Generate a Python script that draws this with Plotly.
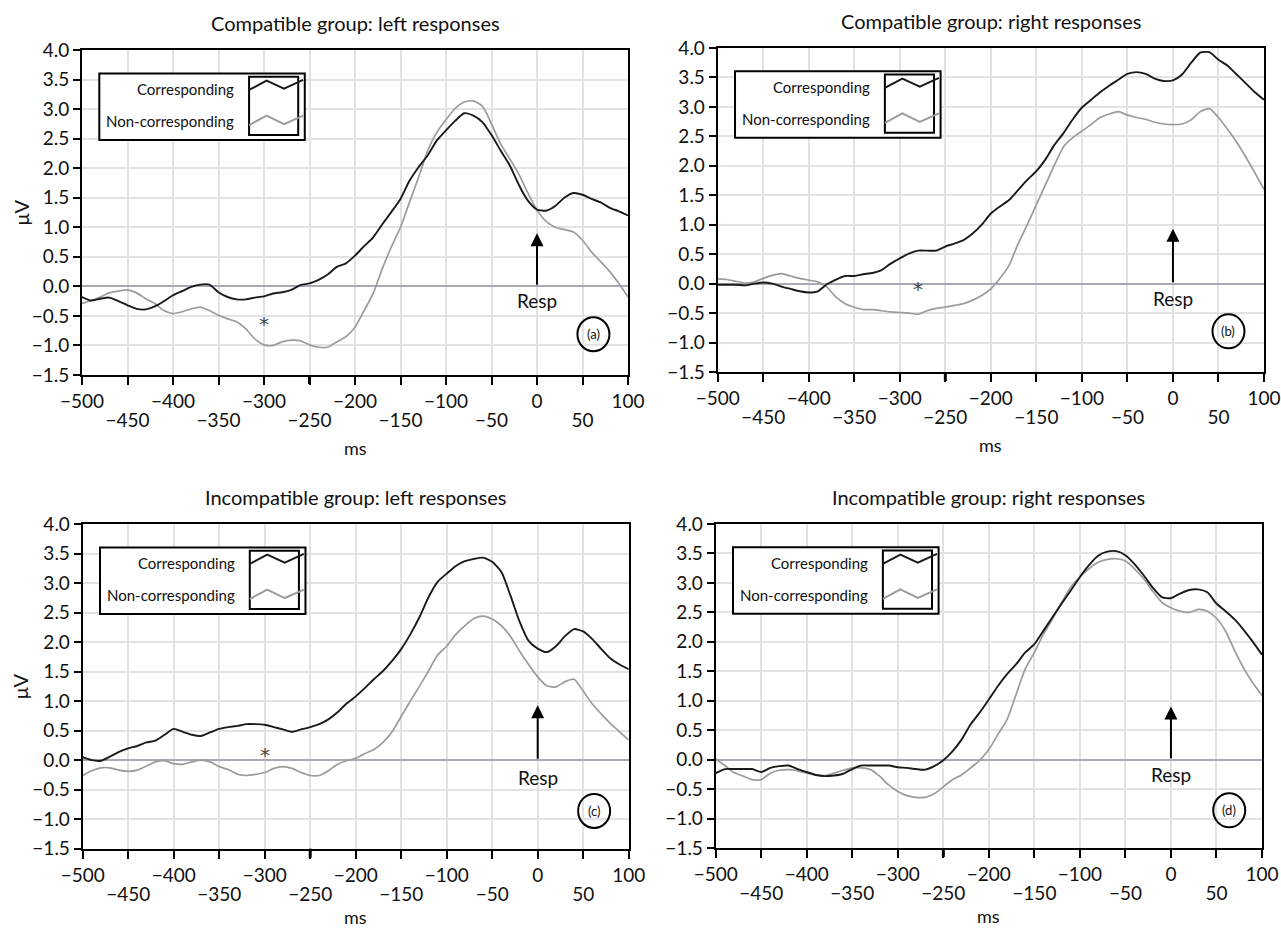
import plotly.graph_objects as go

# ---------------- data ----------------
t = list(range(-500, 101, 10))

a_corr = [-0.18, -0.24, -0.21, -0.19, -0.25, -0.32, -0.38, -0.39, -0.34, -0.25,
          -0.15, -0.08, -0.01, 0.03, 0.03, -0.10, -0.18, -0.22, -0.22, -0.19,
          -0.17, -0.12, -0.10, -0.06, 0.02, 0.05, 0.11, 0.20, 0.33, 0.39,
          0.52, 0.68, 0.83, 1.05, 1.26, 1.48, 1.79, 2.02, 2.22, 2.47,
          2.64, 2.80, 2.93, 2.89, 2.78, 2.56, 2.30, 2.05, 1.72, 1.45,
          1.30, 1.28, 1.36, 1.50, 1.58, 1.55, 1.48, 1.42, 1.33, 1.27, 1.20]
a_non = [-0.29, -0.24, -0.18, -0.11, -0.08, -0.06, -0.11, -0.21, -0.29, -0.41,
         -0.46, -0.43, -0.38, -0.35, -0.41, -0.49, -0.55, -0.60, -0.72, -0.89,
         -0.99, -1.00, -0.94, -0.91, -0.92, -0.99, -1.03, -1.03, -0.94, -0.85,
         -0.69, -0.41, -0.12, 0.30, 0.67, 1.00, 1.43, 1.85, 2.30, 2.61,
         2.82, 3.01, 3.12, 3.14, 3.05, 2.75, 2.41, 2.16, 1.90, 1.58,
         1.29, 1.10, 1.00, 0.96, 0.92, 0.78, 0.58, 0.42, 0.25, 0.05, -0.18]

b_corr = [-0.02, -0.02, -0.02, -0.03, 0.00, 0.02, 0.00, -0.05, -0.09, -0.13,
          -0.15, -0.13, -0.01, 0.07, 0.13, 0.13, 0.16, 0.18, 0.23, 0.34,
          0.43, 0.51, 0.56, 0.56, 0.56, 0.63, 0.68, 0.74, 0.85, 1.00,
          1.19, 1.31, 1.42, 1.59, 1.76, 1.91, 2.11, 2.36, 2.56, 2.79,
          2.99, 3.12, 3.25, 3.36, 3.46, 3.56, 3.59, 3.56, 3.48, 3.44,
          3.45, 3.55, 3.75, 3.92, 3.93, 3.80, 3.70, 3.55, 3.40, 3.25, 3.12]
b_non = [0.08, 0.07, 0.04, 0.01, 0.03, 0.09, 0.14, 0.17, 0.13, 0.09,
         0.06, 0.03, -0.06, -0.23, -0.34, -0.40, -0.44, -0.44, -0.46, -0.48,
         -0.49, -0.50, -0.52, -0.46, -0.42, -0.40, -0.37, -0.34, -0.28, -0.20,
         -0.09, 0.09, 0.31, 0.68, 1.00, 1.34, 1.68, 2.02, 2.33, 2.48,
         2.59, 2.70, 2.82, 2.88, 2.92, 2.86, 2.82, 2.79, 2.74, 2.71,
         2.70, 2.71, 2.78, 2.92, 2.97, 2.82, 2.62, 2.40, 2.15, 1.88, 1.60]

c_corr = [0.05, 0.00, -0.01, 0.06, 0.14, 0.20, 0.24, 0.30, 0.33, 0.43,
          0.53, 0.48, 0.43, 0.41, 0.47, 0.53, 0.56, 0.58, 0.61, 0.61,
          0.60, 0.56, 0.52, 0.48, 0.52, 0.56, 0.61, 0.69, 0.81, 0.96,
          1.08, 1.22, 1.37, 1.51, 1.68, 1.88, 2.13, 2.42, 2.76, 3.02,
          3.16, 3.29, 3.37, 3.41, 3.43, 3.36, 3.19, 2.79, 2.35, 2.02,
          1.89, 1.83, 1.93, 2.10, 2.22, 2.18, 2.05, 1.88, 1.72, 1.62, 1.54]
c_non = [-0.26, -0.18, -0.13, -0.13, -0.17, -0.19, -0.17, -0.10, -0.03, -0.01,
         -0.06, -0.07, -0.03, 0.00, -0.03, -0.11, -0.16, -0.24, -0.26, -0.24,
         -0.21, -0.14, -0.11, -0.14, -0.21, -0.26, -0.26, -0.18, -0.07, -0.01,
         0.03, 0.11, 0.18, 0.30, 0.48, 0.74, 1.00, 1.25, 1.51, 1.78,
         1.93, 2.13, 2.28, 2.40, 2.44, 2.39, 2.28, 2.10, 1.85, 1.62,
         1.41, 1.26, 1.24, 1.33, 1.37, 1.17, 0.95, 0.78, 0.62, 0.48, 0.34]

d_corr = [-0.23, -0.16, -0.16, -0.16, -0.16, -0.21, -0.14, -0.11, -0.10, -0.16,
          -0.21, -0.26, -0.28, -0.27, -0.24, -0.16, -0.10, -0.10, -0.10, -0.10,
          -0.13, -0.14, -0.16, -0.17, -0.11, -0.01, 0.14, 0.34, 0.60, 0.80,
          1.02, 1.25, 1.45, 1.62, 1.82, 1.96, 2.19, 2.42, 2.65, 2.87,
          3.10, 3.30, 3.46, 3.53, 3.54, 3.47, 3.32, 3.13, 2.92, 2.76,
          2.74, 2.82, 2.88, 2.89, 2.84, 2.65, 2.52, 2.38, 2.20, 2.00, 1.78]
d_non = [0.01, -0.10, -0.22, -0.28, -0.34, -0.34, -0.23, -0.18, -0.17, -0.19,
         -0.23, -0.26, -0.27, -0.23, -0.18, -0.14, -0.14, -0.17, -0.28, -0.43,
         -0.54, -0.61, -0.64, -0.64, -0.58, -0.46, -0.34, -0.26, -0.14, -0.01,
         0.17, 0.43, 0.68, 1.11, 1.54, 1.82, 2.13, 2.39, 2.67, 2.93,
         3.10, 3.24, 3.35, 3.40, 3.41, 3.37, 3.24, 3.07, 2.86, 2.67,
         2.58, 2.52, 2.50, 2.55, 2.52, 2.40, 2.18, 1.85, 1.55, 1.30, 1.09]

titles = ["Compatible group: left responses", "Compatible group: right responses",
          "Incompatible group: left responses", "Incompatible group: right responses"]
tags = ["(a)", "(b)", "(c)", "(d)"]
series_names = ["Corresponding", "Non-corresponding"]
x_ticks = list(range(-500, 101, 50))
x_ticks_upper = list(range(-500, 101, 100))    # labels on the first row
x_ticks_lower = list(range(-450, 51, 100))     # labels on the second row
y_ticks = [4.0, 3.5, 3.0, 2.5, 2.0, 1.5, 1.0, 0.5, 0.0, -0.5, -1.0, -1.5]

# annotation positions (data coords)
star_pos = [(-300, -0.55), (-280, 0.0), (-300, 0.17), None]
tag_pos = [(62, -0.81), (61, -0.81), (62, -0.86), (64, -0.86)]
resp_text_y = [-0.24, -0.25, -0.3, -0.25]
arrow_tip_y = [0.9, 0.93, 0.93, 0.9]

# ---------------- layout geometry ----------------
W, H = 1281, 929
px_domains = [  # (x0, x1, ytop, ybottom) in pixels
    (82, 628, 50, 375),
    (717.7, 1264, 48, 372),
    (82.7, 628.7, 524, 848.7),
    (715.7, 1262, 524, 848),
]
ms_shift = [-86, -86, -81, -81]

FONT = "Lato"
BLACK = "#1a1a1a"
GREY = "#9b9b9b"
TXT = "#111111"


def mfmt(v, dec=None):
    s = f"{abs(v):.{dec}f}" if dec is not None else str(abs(v))
    return ("\u2212" + s) if v < 0 else s


x_text = [mfmt(v) if v % 100 == 0 else "" for v in x_ticks]
x_text_lower = [mfmt(v) for v in x_ticks_lower]
y_text = [mfmt(v, 1) if v != 0 else "0.0" for v in y_ticks]

data_sets = [(a_corr, a_non), (b_corr, b_non), (c_corr, c_non), (d_corr, d_non)]

fig = go.Figure()
shapes = []
annotations = []

for i, (corr, non) in enumerate(data_sets):
    n = "" if i == 0 else str(i + 1)
    xa, ya = "x" + n, "y" + n
    fig.add_trace(go.Scatter(x=t, y=non, mode="lines", name=series_names[1],
                             line=dict(color=GREY, width=1.7, shape="spline", smoothing=0.6),
                             xaxis=xa, yaxis=ya, showlegend=False))
    fig.add_trace(go.Scatter(x=t, y=corr, mode="lines", name=series_names[0],
                             line=dict(color=BLACK, width=1.9, shape="spline", smoothing=0.6),
                             xaxis=xa, yaxis=ya, showlegend=False))

    x0, x1, yt, yb = px_domains[i]
    tickfont = dict(family=FONT, size=19, color=TXT)
    axis_common = dict(showline=True, mirror=True, linecolor="black", linewidth=2,
                       ticks="outside", tickcolor="black", tickwidth=1.5,
                       showgrid=True, gridcolor="#e2e2e2", gridwidth=1.5,
                       automargin=False, tickangle=0, tickfont=tickfont)
    # second-row x labels live on an overlaying axis
    nn = str(i + 5)
    fig.update_layout(**{
        ("xaxis" + n): dict(domain=[x0 / W, x1 / W], range=[-500, 100], anchor=ya,
                            tickmode="array", tickvals=x_ticks, ticktext=x_text,
                            ticklen=8, zeroline=False, **axis_common),
        ("yaxis" + n): dict(domain=[1 - yb / H, 1 - yt / H], range=[-1.5, 4.0], anchor=xa,
                            tickmode="array", tickvals=y_ticks, ticktext=y_text,
                            ticklen=7, zeroline=True, zerolinecolor="#a9a9b3",
                            zerolinewidth=1.5, **axis_common),
        ("xaxis" + nn): dict(domain=[x0 / W, x1 / W], range=[-500, 100], anchor=ya,
                             overlaying=xa, side="bottom",
                             tickmode="array", tickvals=x_ticks_lower, ticktext=x_text_lower,
                             ticks="", showline=False, showgrid=False, zeroline=False,
                             automargin=False, tickangle=0, tickfont=tickfont,
                             ticklabelstandoff=32),
    })
    # invisible trace so the overlay axis is drawn
    fig.add_trace(go.Scatter(x=[t[0], t[-1]], y=[corr[0], corr[-1]], mode="lines",
                             line=dict(width=0), opacity=0, hoverinfo="skip",
                             xaxis="x" + nn, yaxis=ya, showlegend=False))

    xd, yd = xa + " domain", ya + " domain"
    # panel title
    annotations.append(dict(text=titles[i], xref=xd, yref=yd, x=0.5, y=1, yshift=27,
                            showarrow=False, yanchor="middle",
                            font=dict(family=FONT, size=20, color=TXT)))
    # x-axis title
    annotations.append(dict(text="ms", xref=xd, yref=yd, x=0.5, y=0, yshift=ms_shift[i],
                            showarrow=False, yanchor="bottom",
                            font=dict(family=FONT, size=18, color=TXT)))
    if i in (0, 2):
        annotations.append(dict(text="\u03bcV", xref="paper", yref=yd, x=20 / W, y=0.5,
                                textangle=-90, showarrow=False, xanchor="center",
                                font=dict(family=FONT, size=20, color=TXT)))
    # thicker tick at -250
    shapes.append(dict(type="line", xref=xa, yref=yd, x0=-250, x1=-250,
                       ysizemode="pixel", yanchor=0, y0=0, y1=-9,
                       line=dict(color="black", width=3)))
    # legend box
    shapes.append(dict(type="rect", xref=xd, yref=yd, x0=0.0317, x1=0.408, y0=0.723, y1=0.928,
                       line=dict(color="black", width=2), fillcolor="white", layer="above"))
    shapes.append(dict(type="rect", xref=xd, yref=yd, x0=0.306, x1=0.396, y0=0.7385, y1=0.918,
                       line=dict(color="black", width=2), layer="above"))
    zx = [0.306, 0.338, 0.370, 0.405]
    zb = [0.877, 0.9055, 0.881, 0.908]
    zg = [0.769, 0.798, 0.772, 0.798]
    pb = "M " + " L ".join(f"{a},{b}" for a, b in zip(zx, zb))
    pg = "M " + " L ".join(f"{a},{b}" for a, b in zip(zx, zg))
    shapes.append(dict(type="path", xref=xd, yref=yd, path=pb,
                       line=dict(color=BLACK, width=2), layer="above"))
    shapes.append(dict(type="path", xref=xd, yref=yd, path=pg,
                       line=dict(color=GREY, width=2), layer="above"))
    annotations.append(dict(text=series_names[0], xref=xd, yref=yd, x=0.282, y=0.88,
                            xanchor="right", yanchor="middle", showarrow=False,
                            font=dict(family=FONT, size=15, color=TXT)))
    annotations.append(dict(text=series_names[1], xref=xd, yref=yd, x=0.282, y=0.781,
                            xanchor="right", yanchor="middle", showarrow=False,
                            font=dict(family=FONT, size=15, color=TXT)))
    # Resp arrow
    annotations.append(dict(text="", xref=xa, yref=ya, x=0, y=arrow_tip_y[i],
                            axref=xa, ayref=ya, ax=0, ay=0, showarrow=True,
                            arrowhead=2, arrowsize=1.3, arrowwidth=2, arrowcolor="black"))
    annotations.append(dict(text="Resp", xref=xa, yref=ya, x=0, y=resp_text_y[i],
                            showarrow=False, yanchor="middle",
                            font=dict(family=FONT, size=19, color=TXT)))
    # panel tag circle
    tx, ty = tag_pos[i]
    shapes.append(dict(type="circle", xref=xa, yref=ya, xsizemode="pixel", ysizemode="pixel",
                       xanchor=tx, yanchor=ty, x0=-16, x1=16, y0=-17, y1=17,
                       line=dict(color="black", width=2)))
    annotations.append(dict(text=tags[i], xref=xa, yref=ya, x=tx, y=ty, showarrow=False,
                            font=dict(family=FONT, size=13, color=TXT)))
    if star_pos[i] is not None:
        sx, sy = star_pos[i]
        annotations.append(dict(text="*", xref=xa, yref=ya, x=sx, y=sy, showarrow=False,
                                yanchor="middle", yshift=-5,
                                font=dict(family="DejaVu Sans", size=20, color="#444")))

fig.update_layout(template="none", width=W, height=H, margin=dict(l=0, r=0, t=0, b=0),
                  paper_bgcolor="white", plot_bgcolor="white",
                  shapes=shapes, annotations=annotations, showlegend=False,
                  font=dict(family=FONT))

fig.write_html("out.html", config={"displayModeBar": False},
               post_script="document.body.style.margin='0';document.body.style.overflow='hidden';")
